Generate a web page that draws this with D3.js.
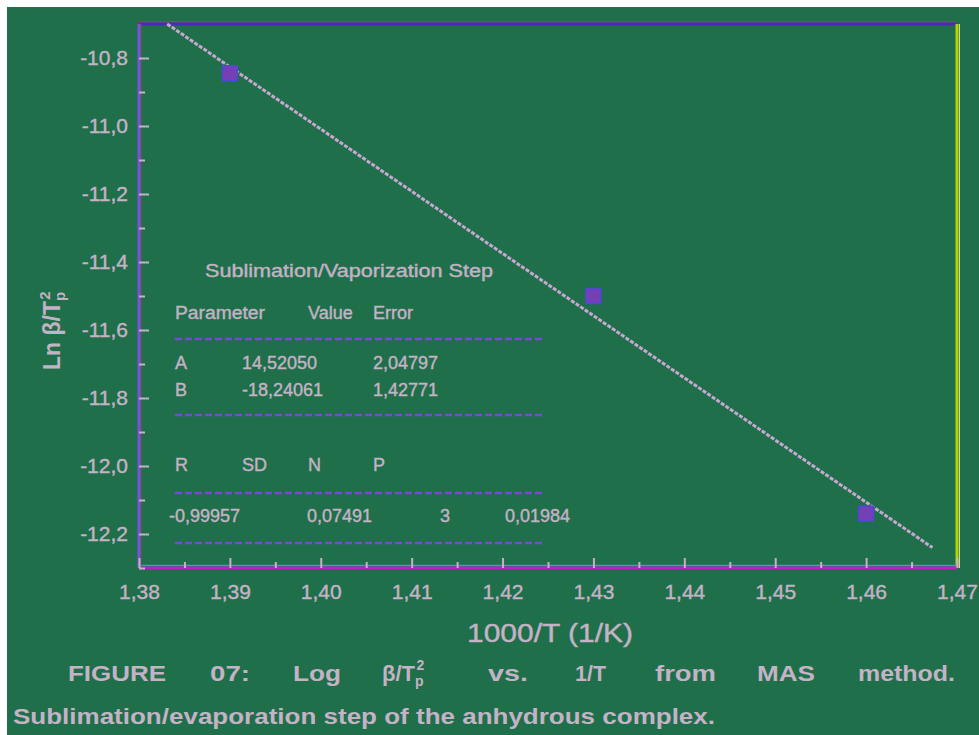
<!DOCTYPE html>
<html>
<head>
<meta charset="utf-8">
<script src="https://cdn.jsdelivr.net/npm/d3@7/dist/d3.min.js"></script>
<style>
  html, body { margin: 0; padding: 0; background: #ffffff; }
  svg { display: block; }
  text { font-family: "Liberation Sans", Arial, sans-serif; }
</style>
</head>
<body>
<script>
// ---------- data ----------
const xMajorTicks = [1.38, 1.39, 1.40, 1.41, 1.42, 1.43, 1.44, 1.45, 1.46, 1.47];
const xMinorTicks = [1.385, 1.395, 1.405, 1.415, 1.425, 1.435, 1.445, 1.455, 1.465];
const yMajorTicks = [-10.8, -11.0, -11.2, -11.4, -11.6, -11.8, -12.0, -12.2];
const yMinorTicks = [-10.9, -11.1, -11.3, -11.5, -11.7, -11.9, -12.1, -12.3];
const pointsX = [1.39, 1.43, 1.46];
const pointsY = [-10.845, -11.50, -12.14];
const fitX = [1.3831, 1.4673];
const fitY = [-10.70, -12.24];
const tableTitle = "Sublimation/Vaporization Step";
const tableHeader = ["Parameter", "Value", "Error"];
const tableRowA = ["A", "14,52050", "2,04797"];
const tableRowB = ["B", "-18,24061", "1,42771"];
const statHeader = ["R", "SD", "N", "P"];
const statValues = ["-0,99957", "0,07491", "3", "0,01984"];
const xTitle = "1000/T (1/K)";
const captionWords = ["FIGURE", "07:", "Log", "β/T", "vs.", "1/T", "from", "MAS", "method."];
const captionLine2 = "Sublimation/evaporation step of the anhydrous complex.";

// ---------- layout ----------
const W = 979, H = 735;
const TXT = "#c4b2c6";
const svg = d3.select("body").append("svg").attr("width", W).attr("height", H);

svg.append("rect").attr("x", 0).attr("y", 0).attr("width", W).attr("height", H).attr("fill", "#ffffff");
svg.append("rect").attr("x", 7).attr("y", 7).attr("width", W - 7).attr("height", H - 7).attr("fill", "#1f6f4a");

const x = d3.scaleLinear().domain([1.38, 1.47]).range([139, 957]);
const y = d3.scaleLinear().domain([-10.7, -12.3]).range([24, 568]);
const fmtX = d => d.toFixed(2).replace(".", ",");
const fmtY = d => d.toFixed(1).replace(".", ",");

// axes lines
const [x0, x1] = x.range(), [y0, y1] = y.range();
svg.append("line").attr("x1", x0).attr("x2", x1).attr("y1", y0 - 2).attr("y2", y0 - 2).attr("stroke", "#a83a6a").attr("stroke-width", 1.5);
svg.append("line").attr("x1", x0).attr("x2", x1).attr("y1", y0).attr("y2", y0).attr("stroke", "#4a2ab8").attr("stroke-width", 3);
svg.append("line").attr("x1", x1).attr("x2", x1).attr("y1", y0).attr("y2", y1).attr("stroke", "#b8d400").attr("stroke-width", 3);
svg.append("line").attr("x1", x1 + 2.5).attr("x2", x1 + 2.5).attr("y1", y0).attr("y2", y1).attr("stroke", "#c8dca0").attr("stroke-width", 1);
svg.append("line").attr("x1", x0).attr("x2", x1).attr("y1", y1 - 2.5).attr("y2", y1 - 2.5).attr("stroke", "#22b0b8").attr("stroke-width", 1.5);
svg.append("line").attr("x1", x0).attr("x2", x1).attr("y1", y1).attr("y2", y1).attr("stroke", "#c21cc4").attr("stroke-width", 3);
svg.append("line").attr("x1", x0 + 2).attr("x2", x0 + 2).attr("y1", y0).attr("y2", y1).attr("stroke", "#8a4a50").attr("stroke-width", 1);
svg.append("line").attr("x1", x0).attr("x2", x0).attr("y1", y0).attr("y2", y1).attr("stroke", "#7a52e0").attr("stroke-width", 3);

// x axis
const gxMinor = svg.append("g").attr("transform", `translate(0,${y1})`)
  .call(d3.axisBottom(x).tickValues(xMinorTicks).tickSize(-6).tickFormat(""));
const gx = svg.append("g").attr("transform", `translate(0,${y1})`)
  .call(d3.axisBottom(x).tickValues(xMajorTicks).tickSize(-10).tickPadding(16).tickFormat(fmtX));
// y axis
const gyMinor = svg.append("g").attr("transform", `translate(${x0},0)`)
  .call(d3.axisLeft(y).tickValues(yMinorTicks).tickSize(-6).tickFormat(""));
const gy = svg.append("g").attr("transform", `translate(${x0},0)`)
  .call(d3.axisLeft(y).tickValues(yMajorTicks).tickSize(-10).tickPadding(11).tickFormat(fmtY));

[gx, gy, gxMinor, gyMinor].forEach(g => {
  g.select(".domain").remove();
  g.selectAll(".tick line").attr("stroke", "#c8b0c8").attr("stroke-width", 2);
  g.selectAll(".tick text").attr("fill", TXT).attr("font-size", 21)
    .attr("stroke", TXT).attr("stroke-width", 0.4)
    .attr("font-family", "'Liberation Sans', Arial, sans-serif");
});

// fit line
const line = d3.line().x((d, i) => x(fitX[i])).y((d, i) => y(fitY[i]));
svg.append("path").datum(fitX).attr("d", line)
  .attr("fill", "none").attr("stroke", "#c8a8d0").attr("stroke-width", 3)
  .attr("stroke-dasharray", "4,1.5");

// points
svg.selectAll("rect.pt").data(pointsX).enter().append("rect").attr("class", "pt")
  .attr("x", (d, i) => x(d) - 7.5).attr("y", (d, i) => y(pointsY[i]) - 7.5)
  .attr("width", 15).attr("height", 15)
  .attr("fill", "#7440b4").attr("stroke", "#4a4ad8").attr("stroke-width", 1.5);

// table
const T = svg.append("g").attr("fill", TXT).attr("font-size", 18).attr("stroke", TXT).attr("stroke-width", 0.4);
T.append("text").attr("x", 205).attr("y", 277).attr("textLength", 288).attr("lengthAdjust", "spacingAndGlyphs").text(tableTitle);
const colX = [175, 242, 308, 373];
T.append("text").attr("x", 175).attr("y", 319).attr("textLength", 90).attr("lengthAdjust", "spacingAndGlyphs").text(tableHeader[0]);
T.append("text").attr("x", 308).attr("y", 319).text(tableHeader[1]);
T.append("text").attr("x", 373).attr("y", 319).text(tableHeader[2]);
[[tableRowA, 369], [tableRowB, 396]].forEach(([row, yy]) => {
  T.append("text").attr("x", 175).attr("y", yy).text(row[0]);
  T.append("text").attr("x", 242).attr("y", yy).text(row[1]);
  T.append("text").attr("x", 373).attr("y", yy).text(row[2]);
});
statHeader.forEach((s, i) => T.append("text").attr("x", colX[i]).attr("y", 471).text(s));
const statX = [169, 307, 440, 505];
statValues.forEach((s, i) => T.append("text").attr("x", statX[i]).attr("y", 522).text(s));
[339, 415, 493, 543].forEach(yy => {
  svg.append("line").attr("x1", 175).attr("x2", 545).attr("y1", yy).attr("y2", yy)
    .attr("stroke", "#7a48d8").attr("stroke-width", 2.5).attr("stroke-dasharray", "7,3");
});

// axis titles
svg.append("text").attr("x", 467).attr("y", 642).attr("fill", TXT).attr("font-size", 25)
  .attr("stroke", TXT).attr("stroke-width", 0.4)
  .attr("textLength", 166).attr("lengthAdjust", "spacingAndGlyphs").text(xTitle);

const yt = svg.append("text").attr("transform", "translate(60,370) rotate(-90)")
  .attr("fill", TXT).attr("font-size", 23).attr("font-weight", "bold");
yt.append("tspan").text("Ln β/T");
yt.append("tspan").attr("font-size", 15).attr("dy", 5).text("p");
yt.append("tspan").attr("font-size", 15).attr("dy", -15).attr("dx", -8).text("2");

// caption
const capPos = [[68, 98], [210, 40], [293, 48], [382, 50], [488, 40], [575, 31], [655, 61], [757, 58], [858, 97]];
const cap = svg.append("g").attr("fill", TXT).attr("font-size", 22).attr("font-weight", "bold");
captionWords.forEach((w, i) => {
  const [cx, cw] = capPos[i];
  if (w === "β/T") {
    const t = cap.append("text").attr("x", cx).attr("y", 681);
    t.append("tspan").text("β/T");
    t.append("tspan").attr("font-size", 14).attr("dy", 5).text("p");
    t.append("tspan").attr("font-size", 14).attr("dy", -16).attr("dx", -7).text("2");
  } else {
    cap.append("text").attr("x", cx).attr("y", 681).attr("textLength", cw)
      .attr("lengthAdjust", "spacingAndGlyphs").text(w);
  }
});
cap.append("text").attr("x", 13).attr("y", 724).attr("textLength", 702)
  .attr("lengthAdjust", "spacingAndGlyphs").text(captionLine2);
</script>
</body>
</html>
